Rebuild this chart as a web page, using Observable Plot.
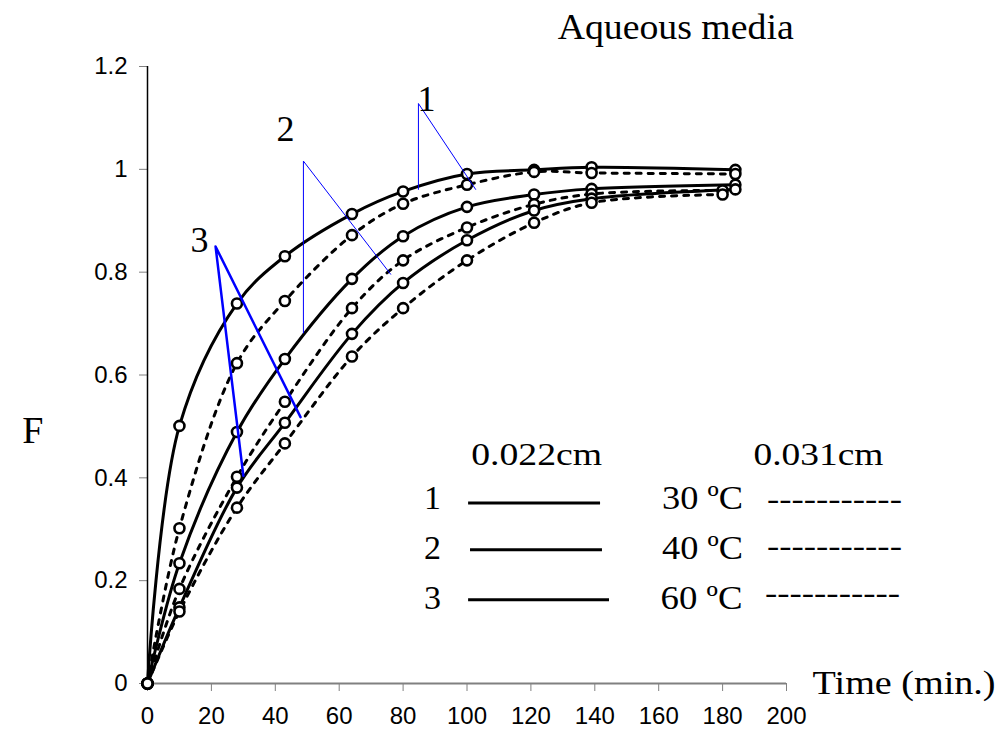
<!DOCTYPE html>
<html>
<head>
<meta charset="utf-8">
<script src="https://cdn.jsdelivr.net/npm/d3@7"></script>
<script src="https://cdn.jsdelivr.net/npm/@observablehq/plot@0.6"></script>
<style>
  html, body { margin: 0; padding: 0; background: white; }
  svg [aria-label^="x-axis"] line, svg [aria-label^="x-axis"] path,
  svg [aria-label^="y-axis"] line, svg [aria-label^="y-axis"] path { stroke: #808080; }
</style>
</head>
<body>
<div id="chart"></div>
<script>
// ---- data ----
const tLong = [0, 10, 28, 43, 64, 80, 100, 121, 139, 184];
const tShort = [0, 10, 28, 43, 64, 80, 100, 121, 139, 180];

const s1Solid = [0, 0.501, 0.739, 0.831, 0.913, 0.957, 0.991, 0.999, 1.004, 0.999];
const s1Dash  = [0, 0.302, 0.623, 0.744, 0.872, 0.933, 0.970, 0.995, 0.993, 0.991];
const s2Solid = [0, 0.234, 0.489, 0.631, 0.787, 0.870, 0.927, 0.951, 0.962, 0.970];
const s2Dash  = [0, 0.184, 0.402, 0.548, 0.730, 0.823, 0.887, 0.932, 0.952, 0.959];
const s3Solid = [0, 0.148, 0.381, 0.507, 0.680, 0.779, 0.862, 0.920, 0.943, 0.961];
const s3Dash  = [0, 0.140, 0.342, 0.467, 0.636, 0.730, 0.823, 0.896, 0.935, 0.951];

const xTicks = [0, 20, 40, 60, 80, 100, 120, 140, 160, 180, 200];
const yTicks = [0, 0.2, 0.4, 0.6, 0.8, 1, 1.2];
const yTickLabels = ["0", "0.2", "0.4", "0.6", "0.8", "1", "1.2"];

// annotation pointers (data units)
const pointer1 = [{x: 84.8, y: 0.961}, {x: 84.8, y: 1.128}, {x: 102.7, y: 0.961}];
const pointer2 = [{x: 48.8, y: 0.682}, {x: 48.8, y: 1.016}, {x: 76.1, y: 0.796}];
const pointer3 = [{x: 30.0, y: 0.404}, {x: 21.3, y: 0.850}, {x: 47.9, y: 0.518}];
const pointerLabels = [
  {x: 87.3, y: 1.136, text: "1"},
  {x: 43.2, y: 1.078, text: "2"},
  {x: 16.3, y: 0.862, text: "3"}
];

// legend (data units)
const legendHeads = [
  {x: 121.8, y: 0.445, text: "0.022cm"},
  {x: 210.0, y: 0.445, text: "0.031cm"}
];
const legendNums = [
  {x: 89.2, y: 0.361, text: "1"},
  {x: 89.2, y: 0.264, text: "2"},
  {x: 89.2, y: 0.167, text: "3"}
];
const legendSolid = [
  {y: 0.351, x1: 100.5, x2: 141.8},
  {y: 0.260, x1: 101.1, x2: 142.4},
  {y: 0.163, x1: 100.5, x2: 144.6}
];
const legendTemps = [
  {x: 173.7, y: 0.361, text: "30 ºC"},
  {x: 173.7, y: 0.264, text: "40 ºC"},
  {x: 173.4, y: 0.167, text: "60 ºC"}
];
const legendDashes = [
  {x: 215.0, y: 0.358, text: "-----------"},
  {x: 215.0, y: 0.267, text: "-----------"},
  {x: 214.4, y: 0.176, text: "-----------"}
];
const titles = [
  {x: 165.3, y: 1.276, text: "Aqueous media"},
  {x: 236.8, y: 0.0, text: "Time (min.)"},
  {x: -35.9, y: 0.491, text: "F"}
];

// ---- build table ----
function series(name, dashed, ts, vs) {
  return ts.map((t, i) => ({series: name, dashed, t, F: vs[i]}));
}
const rows = [
  ...series("1 solid", false, tLong, s1Solid),
  ...series("1 dash", true, tLong, s1Dash),
  ...series("2 solid", false, tLong, s2Solid),
  ...series("2 dash", true, tShort, s2Dash),
  ...series("3 solid", false, tLong, s3Solid),
  ...series("3 dash", true, tShort, s3Dash)
];

const serif = "'Liberation Serif', 'Times New Roman', serif";

const plot = Plot.plot({
  width: 1003,
  height: 738,
  marginLeft: 147,
  marginRight: 217,
  marginTop: 66,
  marginBottom: 55,
  style: {fontFamily: "'Liberation Sans', Arial, sans-serif", fontSize: "24px", color: "black", background: "white", overflow: "visible"},
  x: {domain: [0, 200], ticks: xTicks, tickSize: 8, tickPadding: 15, label: null, tickFormat: d => String(d)},
  y: {domain: [0, 1.2], ticks: yTicks, tickSize: 8, tickPadding: 12, label: null,
      tickFormat: d => yTickLabels[yTicks.indexOf(d)] ?? String(d)},
  marks: [
    Plot.ruleY([0], {stroke: "#808080", strokeWidth: 2}),
    Plot.ruleX([0], {stroke: "black", strokeWidth: 1.5}),
    Plot.line(rows.filter(d => !d.dashed), {x: "t", y: "F", z: "series", curve: "catmull-rom", stroke: "black", strokeWidth: 3}),
    Plot.line(rows.filter(d => d.dashed), {x: "t", y: "F", z: "series", curve: "catmull-rom", stroke: "black", strokeWidth: 3, strokeDasharray: "5,7"}),
    Plot.dot(rows, {x: "t", y: "F", r: 5, stroke: "black", fill: "white", strokeWidth: 2.6}),
    Plot.line(pointer1, {x: "x", y: "y", stroke: "blue", strokeWidth: 1}),
    Plot.line(pointer2, {x: "x", y: "y", stroke: "blue", strokeWidth: 1}),
    Plot.line(pointer3, {x: "x", y: "y", stroke: "blue", strokeWidth: 2.5}),
    Plot.text(pointerLabels, {x: "x", y: "y", text: "text", fontSize: 36, fontFamily: serif, fill: "black"}),
    Plot.text(legendHeads, {x: "x", y: "y", text: "text", fontSize: 32, fontFamily: serif, fill: "black"}),
    Plot.text(legendNums, {x: "x", y: "y", text: "text", fontSize: 34, fontFamily: serif, fill: "black"}),
    Plot.ruleY(legendSolid, {y: "y", x1: "x1", x2: "x2", stroke: "black", strokeWidth: 3}),
    Plot.text(legendTemps, {x: "x", y: "y", text: "text", fontSize: 34, fontFamily: serif, fill: "black"}),
    Plot.text(legendDashes, {x: "x", y: "y", text: "text", fontSize: 30, fontFamily: serif, fill: "black"}),
    Plot.text(titles.filter(d => d.text === "Aqueous media"), {x: "x", y: "y", text: "text", fontSize: 35, fontFamily: serif, fill: "black"}),
    Plot.text(titles.filter(d => d.text === "Time (min.)"), {x: "x", y: "y", text: "text", fontSize: 33, fontFamily: serif, fill: "black"}),
    Plot.text(titles.filter(d => d.text === "F"), {x: "x", y: "y", text: "text", fontSize: 38, fontFamily: serif, fill: "black"})
  ]
});

// stretch texts horizontally to match the reference widths
const stretch = {
  "Aqueous media": 236, "Time (min.)": 183, "0.022cm": 131, "0.031cm": 130,
  "30 ºC": 81, "40 ºC": 81, "60 ºC": 82, "-----------": 135
};
plot.querySelectorAll("text").forEach(t => {
  const w = stretch[t.textContent];
  if (w) { t.setAttribute("textLength", w); t.setAttribute("lengthAdjust", "spacingAndGlyphs"); }
});

document.getElementById("chart").appendChild(plot);
</script>
</body>
</html>
